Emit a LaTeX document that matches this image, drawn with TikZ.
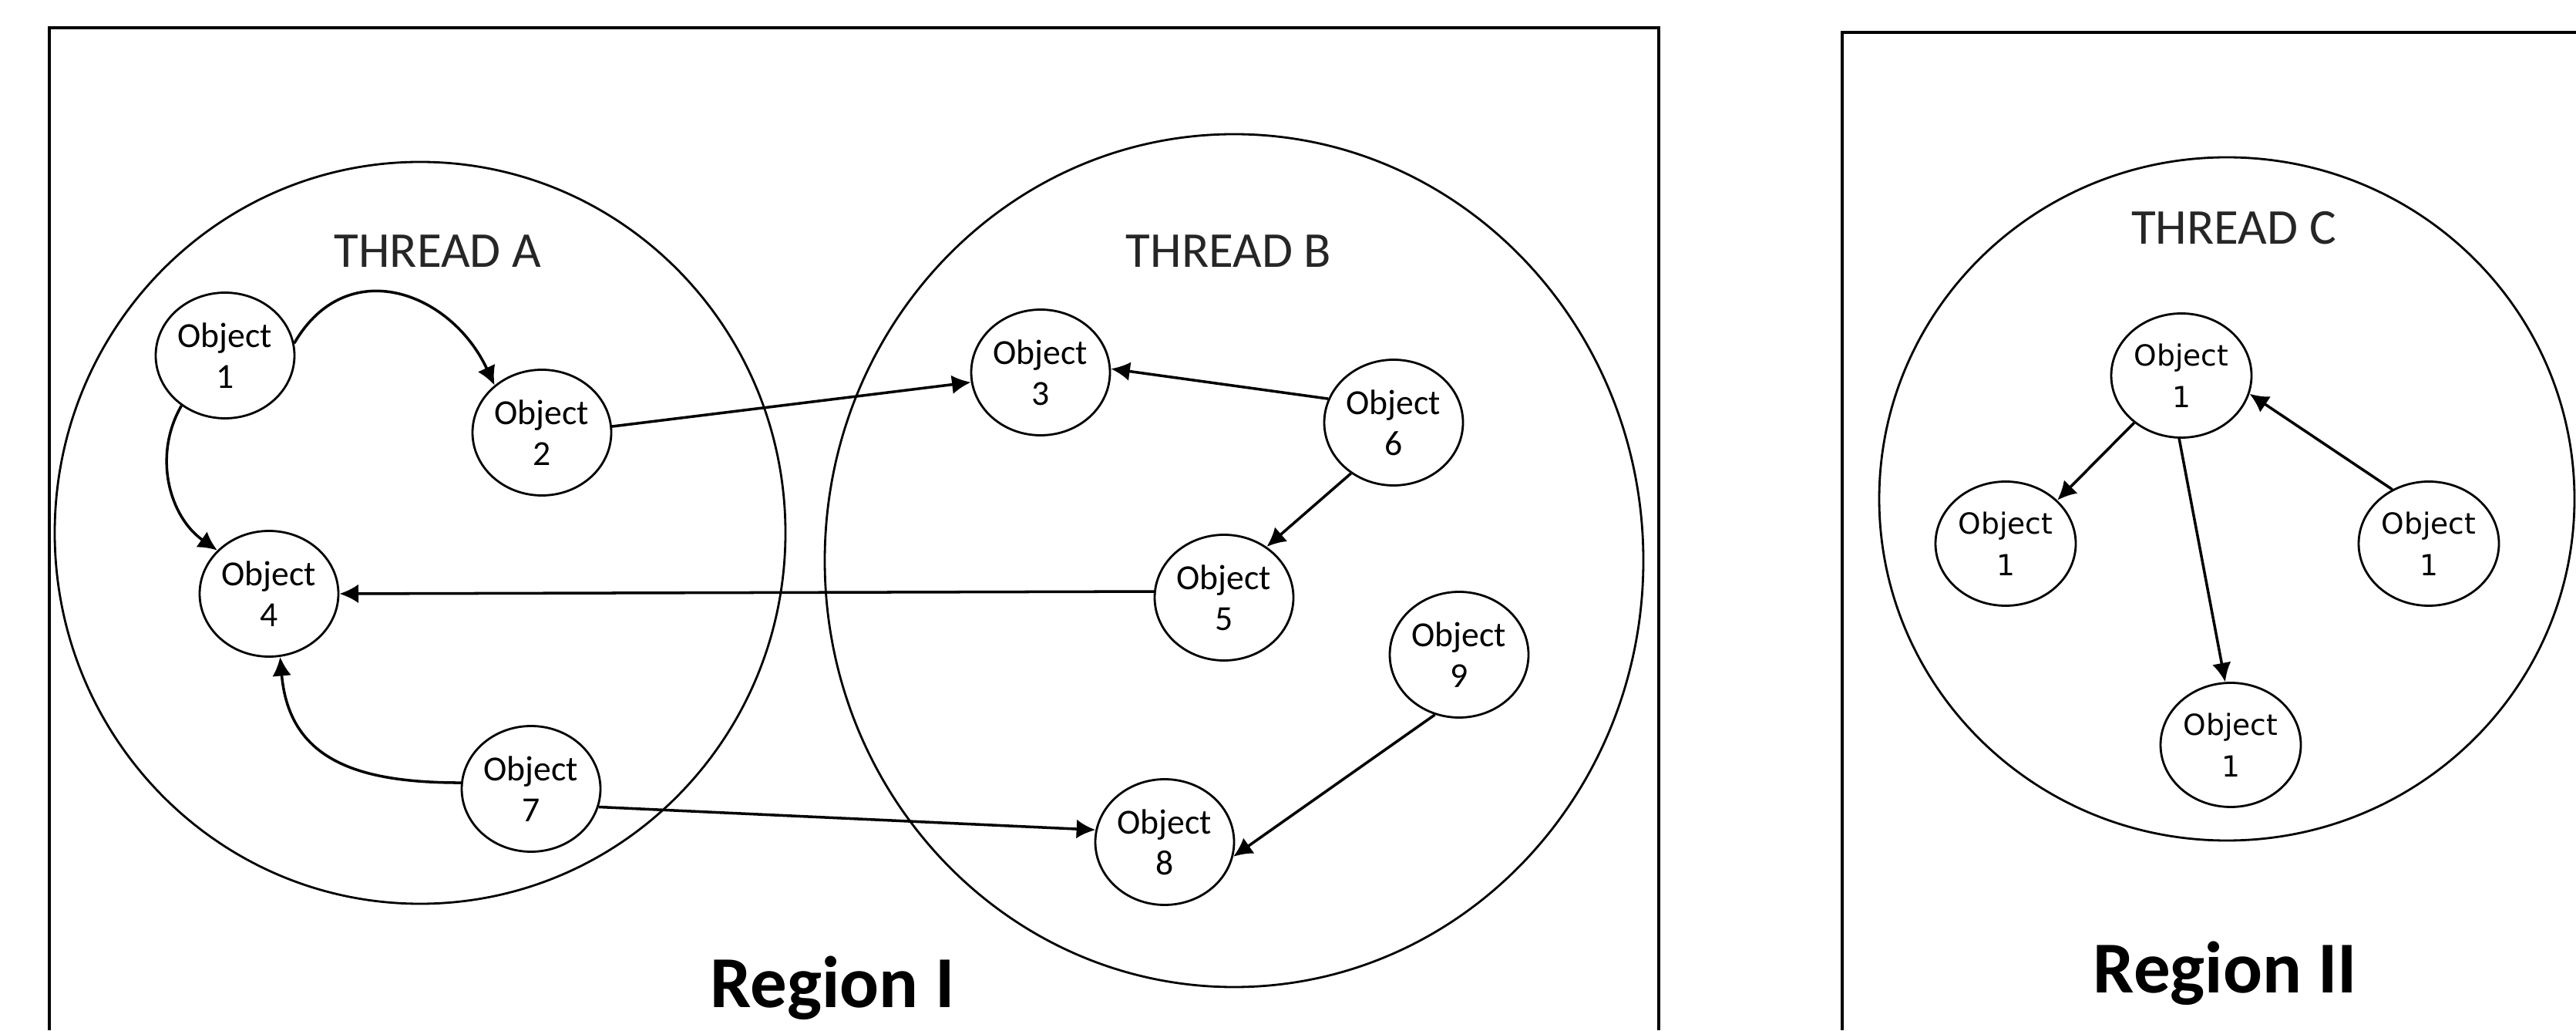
\documentclass[tikz,border=0pt]{standalone}
\usepackage{fontspec}
\setmainfont{Carlito}
\newfontfamily\verdfont{DejaVu Sans}
\usetikzlibrary{shapes.geometric,arrows.meta}

\begin{document}
\begin{tikzpicture}[
		obj/.style = {ellipse, draw, line width = 0.8pt, inner sep = 0pt, minimum width = 1.8cm, minimum height = 1.63cm, align = center, font = \fontsize{13}{15}\selectfont},
		objc/.style = {obj, minimum width = 1.82cm, minimum height = 1.61cm, font = \verdfont\fontsize{10.7}{15.4}\selectfont},
		link/.style = {-{Latex[length=7pt,width=7pt]}, line width = 1pt},
		threadlbl/.style = {text = black!85, font = \fontsize{18.5}{22}\selectfont},
		regionlbl/.style = {anchor = base, font = \fontsize{27}{32}\selectfont\bfseries}]
		\useasboundingbox (0,0) rectangle (33.42,13.36);
		% region frames
		\draw[line width = 1.2pt] (0.64,0) -- (0.64,13.00) -- (21.52,13.00) -- (21.52,0);
		\draw[line width = 1.2pt] (23.90,0) -- (23.90,12.94) -- (33.42,12.94);
		% threads
		\draw[line width = 0.8pt] (5.45,6.45) ellipse [x radius = 4.74, y radius = 4.81];
		\draw[line width = 0.8pt] (16.01,6.09) ellipse [x radius = 5.31, y radius = 5.53];
		\draw[line width = 0.8pt] (28.89,6.89) ellipse [x radius = 4.51, y radius = 4.43];
		\node[threadlbl] (ta) at (5.68,10.10){THREAD A};
		\node[threadlbl] (tb) at (15.94,10.10){THREAD B};
		\node[threadlbl] (tc) at (28.98,10.40){THREAD C};
		% objects of region I
		\node[obj] (o1) at (2.92,8.75){Object\\1};
		\node[obj] (o2) at (7.03,7.75){Object\\2};
		\node[obj] (o3) at (13.50,8.53){Object\\3};
		\node[obj] (o4) at (3.49,5.66){Object\\4};
		\node[obj] (o5) at (15.88,5.61){Object\\5};
		\node[obj] (o6) at (18.08,7.88){Object\\6};
		\node[obj] (o7) at (6.89,3.13){Object\\7};
		\node[obj] (o8) at (15.11,2.44){Object\\8};
		\node[obj] (o9) at (18.93,4.87){Object\\9};
		% objects of region II
		\node[objc] (c1) at (28.30,8.49){Object\\1};
		\node[objc] (c2) at (26.02,6.31){Object\\1};
		\node[objc] (c3) at (31.51,6.31){Object\\1};
		\node[objc] (c4) at (28.94,3.70){Object\\1};
		% references
		\draw[link] (o1.10) to[out=60,in=115,looseness=1.3] (o2.135);
		\draw[link] (o1.229) to[out=240,in=145] (o4.140);
		\draw[link] (o2.5) -- (o3.188);
		\draw[link] (o6.160) -- (o3.3);
		\draw[link] (o6.230) -- (o5.50);
		\draw[link] (o5.175) -- (o4.east);
		\draw[link] (o7.175) to[out=180,in=-85,looseness=1.2] (o4.280);
		\draw[link] (o7.-15) -- (o8.170);
		\draw[link] (o9.248) -- (o8.-12);
		\draw[link] (c1.225) -- (c2.40);
		\draw[link] (c1.268) -- (c4.95);
		\draw[link] (c3.124) -- (c1.-15);
		\node[regionlbl] (r1) at (10.80,0.30){Region I};
		\node[regionlbl] (r2) at (28.87,0.49){Region II};
\end{tikzpicture}
\end{document}
